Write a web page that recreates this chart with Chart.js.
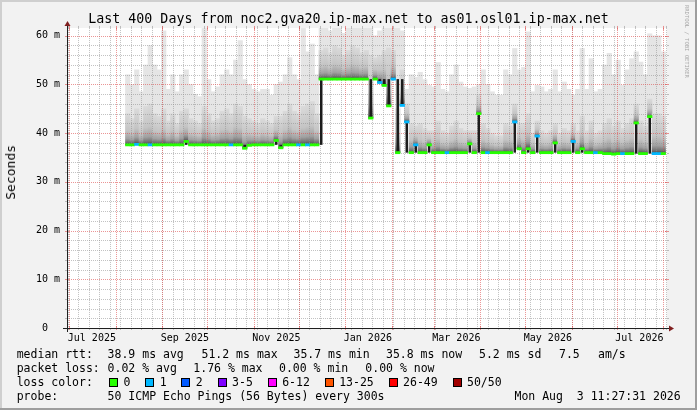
<!DOCTYPE html>
<html>
<head>
<meta charset="utf-8">
<title>Last 400 Days from noc2.gva20.ip-max.net to as01.osl01.ip-max.net</title>
<script src="https://cdn.jsdelivr.net/npm/chart.js@4.4.0/dist/chart.umd.min.js"></script>
<style>
    body { margin: 0; background: #f2f2f2; }
    #wrap { position: relative; width: 697px; height: 410px; overflow: hidden; }
    #graph { position: absolute; left: 0; top: 0; }
    .txt { position: absolute; font-family: 'DejaVu Sans Mono', monospace; color: #000; white-space: pre; }
    .leg { font-size: 11.5px; line-height: 14px; height: 14px; }
    .lossItems { display: flex; align-items: center; }
    .lossItem { display: flex; align-items: center; margin-right: 14.8px; }
    .box { display: inline-block; width: 7px; height: 7px; border: 1px solid #000; margin-right: 5.5px; }
    #ylabel { left: 3px; top: 145px; font-size: 13px; writing-mode: vertical-rl; transform: rotate(180deg); line-height: 15px; }
    #watermark { left: 684px; top: 5px; font-size: 5.5px; line-height: 6px; color: #a8a8a8; writing-mode: vertical-rl; }
</style>
</head>
<body>
<div id="wrap">
    <canvas id="graph" width="697" height="410"></canvas>
    <div class="txt" id="ylabel">Seconds</div>
    <div class="txt" id="watermark">RRDTOOL / TOBI OETIKER</div>
</div>
<script>
// Time axis: days since the start of the 400 day window
const periodEnd = Date.UTC(2026, 7, 3, 11, 27, 31);
const periodDays = 400;
const periodStart = periodEnd - periodDays * 86400000;
const dayOf = s => (Date.parse(s + 'T00:00:00Z') - periodStart) / 86400000;

const xTickDates = ['2025-07-01', '2025-09-01', '2025-11-01', '2026-01-01', '2026-03-01', '2026-05-01', '2026-07-01'];
const xTickLabels = ['Jul 2025', 'Sep 2025', 'Nov 2025', 'Jan 2026', 'Mar 2026', 'May 2026', 'Jul 2026'];
const yTickValues = [0, 10, 20, 30, 40, 50, 60];
const yTickLabels = ['0  ', '10 m', '20 m', '30 m', '40 m', '50 m', '60 m'];
const yMax = 61.6;

// every value covers 3 days, the first one starts 39 days into the window
const firstBinDay = 39;
const binDays = 3;

// median rtt (ms)
const median = [
    37.6, 37.6, 37.7, 37.6, 37.6, 37.6, 37.6, 37.6, 37.6, 37.6,
    37.6, 37.6, 37.6, 38.3, 37.6, 37.6, 37.6, 37.6, 37.6, 37.6,
    37.6, 37.6, 37.6, 37.6, 37.6, 37.6, 36.9, 37.5, 37.6, 37.6,
    37.6, 37.6, 37.6, 38.5, 37.0, 37.6, 37.6, 37.6, 37.6, 37.6,
    37.6, 37.6, 37.6, 51.1, 51.1, 51.1, 51.1, 51.1, 51.1, 51.1,
    51.1, 51.1, 51.1, 51.1, 43.1, 51.1, 50.4, 49.8, 45.6, 51.1,
    36.0, 45.7, 42.3, 36.0, 37.6, 36.0, 36.0, 37.6, 36.0, 36.0,
    36.0, 36.0, 36.0, 36.0, 36.0, 36.0, 37.8, 36.0, 44.0, 36.0,
    36.0, 36.0, 36.0, 36.0, 36.0, 36.0, 42.3, 36.8, 36.0, 36.8,
    36.0, 39.4, 36.0, 36.0, 36.0, 38.0, 36.0, 36.0, 36.0, 38.3,
    36.0, 36.8, 36.0, 36.0, 36.0, 36.0, 35.8, 35.8, 35.7, 35.8,
    35.8, 35.8, 35.8, 42.1, 35.8, 35.8, 43.4, 35.8, 35.8, 35.8
];

// highest ping of each bin (light smoke)
const smokeTop = [
    52, 50, 53, 48.5, 54, 58, 54, 53, 61, 49,
    52, 48.5, 52, 53, 50, 48, 47.5, 61.5, 51, 48.5,
    49.5, 52, 53, 52, 55, 59, 51, 50, 49, 48.5,
    49, 49, 47.8, 50, 50.5, 52, 55.5, 52, 51, 61.5,
    56.7, 58.3, 52, 62, 62, 61, 62, 62, 60.5, 62,
    62, 62, 61.5, 62, 62, 60, 61, 62, 62, 62,
    62, 61, 49, 52, 51.5, 52.5, 51, 49.8, 49.5, 54.5,
    49, 48.5, 52, 54, 50.5, 49.5, 49.2, 49.5, 50, 53,
    50, 48.5, 47.8, 47.8, 53, 52, 57.4, 53, 53.5, 60.8,
    48.5, 49.8, 49.5, 48.5, 49, 53, 48.5, 50.5, 49, 47.8,
    49, 57.4, 49, 55.3, 48.5, 49, 54, 56.4, 52, 55,
    49.8, 53, 55.3, 56.7, 54.6, 52, 60.4, 60, 60, 56.7
];

// upper end of the dense (dark) part of the smoke
const smokeMid = [
    44, 43, 45, 42.5, 45.5, 46, 44, 43.5, 45, 42.5,
    44, 42, 44.5, 45, 43, 42.5, 42, 45.5, 44, 42.5,
    43, 44.5, 45, 44, 46, 45.5, 43.5, 43, 42.5, 42,
    43, 42.5, 42, 43.5, 43.5, 44.5, 46, 44.5, 44, 45.5,
    46, 46.5, 44, 57, 57.5, 56.5, 58, 57.5, 56, 57,
    58, 57.5, 56.5, 57, 56, 55.5, 56, 57, 57.5, 57,
    45, 53, 46, 42, 41.5, 42, 41, 40.5, 40.5, 42.5,
    40.5, 40, 41.5, 42.5, 41, 40.5, 40.5, 40.5, 48, 42,
    41, 40, 39.5, 39.5, 42, 41.5, 46, 42, 42, 44,
    40, 42.5, 40.5, 40, 40.5, 42, 40, 41, 40.5, 42,
    40.5, 43.5, 40.5, 42.5, 40, 40.5, 42, 43, 41.5, 42.5,
    41, 42, 43, 46, 42.5, 41.5, 47, 44, 44, 43.5
];

// far end of the black core where pings jump between levels
const smokeCore = [
    null, null, null, null, null, null, null, null, null, null,
    null, null, null, 37.6, null, null, null, null, null, null,
    null, null, null, null, null, null, 37.6, null, null, null,
    null, null, null, 37.6, 37.6, null, null, null, null, null,
    null, null, null, 37.6, null, null, null, null, null, null,
    null, null, null, null, 51.1, null, 51.1, 51.1, 51.1, null,
    51.1, 51.1, 36.0, null, 36.0, null, null, 36.0, null, null,
    null, null, null, null, null, null, 36.0, null, 36.0, null,
    null, null, null, null, null, null, 36.0, null, null, 36.0,
    null, 36.0, null, null, null, 36.0, null, null, null, 36.0,
    null, 36.0, null, null, null, null, null, null, null, null,
    null, null, null, 35.8, null, null, 35.8, null, null, null
];

// loss class of each bin (index into lossColors)
const loss = [
    0, 0, 1, 0, 0, 1, 0, 0, 0, 0,
    0, 0, 0, 0, 0, 0, 0, 0, 0, 0,
    0, 0, 0, 1, 0, 0, 0, 0, 0, 0,
    0, 0, 0, 0, 0, 0, 0, 0, 1, 0,
    1, 0, 0, 0, 0, 0, 0, 0, 0, 0,
    0, 0, 0, 0, 0, 0, 1, 0, 0, 1,
    0, 1, 1, 0, 1, 0, 0, 0, 0, 0,
    0, 1, 0, 0, 0, 0, 0, 0, 0, 0,
    1, 0, 0, 0, 0, 0, 1, 0, 0, 0,
    0, 1, 0, 0, 0, 0, 0, 0, 0, 1,
    0, 0, 0, 0, 1, 0, 0, 0, 0, 0,
    1, 0, 0, 0, 0, 0, 0, 1, 1, 0
];

const lossLabels = ['0', '1', '2', '3-5', '6-12', '13-25', '26-49', '50/50'];
const lossColors = ['#26ff00', '#00b8ff', '#0059ff', '#7e00ff', '#ff00ff', '#ff5500', '#ff0000', '#a10000'];

// legend rows under the graph: [left px, text] for each item
const legendTop = 347;
const legendRows = [
    [[16.7, 'median rtt:'], [107.6, '38.9 ms avg'], [201.5, '51.2 ms max'], [293.5, '35.7 ms min'],
     [386, '35.8 ms now'], [479, '5.2 ms sd'], [559, '7.5'], [598, 'am/s']],
    [[16.7, 'packet loss:'], [107.6, '0.02 % avg'], [193.3, '1.76 % max'], [279, '0.00 % min'], [365.3, '0.00 % now']],
    [[16.7, 'loss color:']],
    [[16.7, 'probe:'], [107.6, '50 ICMP Echo Pings (56 Bytes) every 300s'], [514.5, 'Mon Aug  3 11:27:31 2026']]
];

// rrdtool default colours
const GRID = 'rgba(143, 143, 143, 0.55)';
const MGRID = 'rgba(222, 79, 79, 0.6)';
const AXIS = '#1f1f1f';
const ARROW = '#801f1f';

// Legend text
const wrap = document.getElementById('wrap');
legendRows.forEach((row, r) => {
    row.forEach(([left, text]) => {
        const el = document.createElement('div');
        el.className = 'txt leg';
        el.style.left = left + 'px';
        el.style.top = (legendTop + r * 14) + 'px';
        el.textContent = text;
        wrap.appendChild(el);
    });
});
const lossBox = document.createElement('div');
lossBox.className = 'txt leg lossItems';
lossBox.style.left = '108.9px';
lossBox.style.top = (legendTop + 2 * 14) + 'px';
lossLabels.forEach((label, i) => {
    const item = document.createElement('span');
    item.className = 'lossItem';
    item.innerHTML = `<span class="box" style="background:${lossColors[i]}"></span>${label}`;
    lossBox.appendChild(item);
});
wrap.appendChild(lossBox);

const binX = median.map((_, i) => firstBinDay + binDays * (i + 0.5));

const monthStarts = [];
for (let m = 6; m <= 19; m++) {
    const d = (Date.UTC(2025, m, 1) - periodStart) / 86400000;
    if (d > 0 && d < periodDays) monthStarts.push(d);
}
const weekStarts = [];
for (let d = dayOf('2025-06-30'); d < periodDays; d += 7) {
    if (d > 0) weekStarts.push(d);
}

// Smoke gradient: dark next to the median, fading out upwards
function smokeGradient(c) {
    if (c.type !== 'data' || !c.raw || !c.raw.y) return '#c0c0c0';
    const y = c.chart.scales.y;
    if (!y) return '#c0c0c0';
    const y0 = y.getPixelForValue(c.raw.y[0]);
    const y1 = y.getPixelForValue(c.raw.y[1]);
    if (!isFinite(y0) || !isFinite(y1) || y0 === y1) return '#c0c0c0';
    const g = c.chart.ctx.createLinearGradient(0, y0, 0, y1);
    g.addColorStop(0, '#404040');
    g.addColorStop(0.07, '#6e6e6e');
    g.addColorStop(0.2, '#a0a0a0');
    g.addColorStop(0.45, '#c4c4c4');
    g.addColorStop(1, '#dadada');
    return g;
}

// Background, canvas and 3D frame
const rrdFrame = {
    id: 'rrdFrame',
    beforeDraw(chart) {
        const { ctx, width, height, chartArea: a } = chart;
        ctx.save();
        ctx.fillStyle = '#f2f2f2';
        ctx.fillRect(0, 0, width, height);
        ctx.fillStyle = '#ffffff';
        ctx.fillRect(a.left, a.top, a.right - a.left, a.bottom - a.top);
        ctx.fillStyle = '#cfcfcf';
        ctx.fillRect(0, 0, width, 2);
        ctx.fillRect(0, 0, 2, height);
        ctx.fillStyle = '#9e9e9e';
        ctx.fillRect(0, height - 2, width, 2);
        ctx.fillRect(width - 2, 0, 2, height);
        ctx.restore();
    }
};

// Dotted grid over the smoke, axes and arrows
const rrdGrid = {
    id: 'rrdGrid',
    afterDatasetDraw(chart, args) {
        if (args.index !== 2) return;
        const { ctx, chartArea: a, scales: { x, y } } = chart;
        const hline = v => {
            const py = Math.round(y.getPixelForValue(v)) + 0.5;
            ctx.beginPath(); ctx.moveTo(a.left, py); ctx.lineTo(a.right, py); ctx.stroke();
        };
        const vline = d => {
            const px = Math.round(x.getPixelForValue(d)) + 0.5;
            ctx.beginPath(); ctx.moveTo(px, a.top); ctx.lineTo(px, a.bottom); ctx.stroke();
        };
        ctx.save();
        ctx.lineWidth = 1;
        ctx.setLineDash([1, 1]);
        ctx.strokeStyle = GRID;
        for (let v = 2; v < yMax; v += 2) if (v % 10) hline(v);
        weekStarts.forEach(vline);
        ctx.strokeStyle = MGRID;
        for (let v = 10; v < yMax; v += 10) hline(v);
        monthStarts.forEach(vline);
        ctx.restore();
    },
    afterDraw(chart) {
        const { ctx, chartArea: a, scales: { x, y } } = chart;
        ctx.save();
        ctx.lineWidth = 1;
        const seg = (x0, y0, x1, y1) => { ctx.beginPath(); ctx.moveTo(x0, y0); ctx.lineTo(x1, y1); ctx.stroke(); };
        // tick marks outside the canvas area
        ctx.strokeStyle = GRID;
        for (let v = 2; v < yMax; v += 2) {
            if (v % 10 === 0) continue;
            const py = Math.round(y.getPixelForValue(v)) + 0.5;
            seg(a.left - 2, py, a.left, py);
            seg(a.right, py, a.right + 2, py);
        }
        weekStarts.forEach(d => {
            const px = Math.round(x.getPixelForValue(d)) + 0.5;
            seg(px, a.bottom, px, a.bottom + 2);
            seg(px, a.top - 2, px, a.top);
        });
        ctx.strokeStyle = MGRID;
        for (let v = 10; v < yMax; v += 10) {
            const py = Math.round(y.getPixelForValue(v)) + 0.5;
            seg(a.left - 2, py, a.left + 2, py);
            seg(a.right - 2, py, a.right + 2, py);
        }
        monthStarts.forEach(d => {
            const px = Math.round(x.getPixelForValue(d)) + 0.5;
            seg(px, a.bottom - 2, px, a.bottom + 2);
            seg(px, a.top - 2, px, a.top + 2);
        });
        // axes
        const ox = Math.round(a.left) + 0.5;
        const oy = Math.round(y.getPixelForValue(0)) + 0.5;
        ctx.strokeStyle = AXIS;
        seg(a.left - 4, oy, a.right + 4, oy);
        seg(ox, a.bottom + 4, ox, a.top - 4);
        // arrows
        ctx.fillStyle = ARROW;
        ctx.beginPath();
        ctx.moveTo(a.right + 2, oy - 3); ctx.lineTo(a.right + 2, oy + 3); ctx.lineTo(a.right + 7, oy);
        ctx.closePath(); ctx.fill();
        ctx.beginPath();
        ctx.moveTo(ox - 3, a.top - 2); ctx.lineTo(ox + 3, a.top - 2); ctx.lineTo(ox, a.top - 7);
        ctx.closePath(); ctx.fill();
        ctx.restore();
    }
};

const tickFont = { family: 'DejaVu Sans Mono', size: 10 };

new Chart(document.getElementById('graph'), {
    type: 'bar',
    data: {
        datasets: [
            {
                label: 'median rtt',
                data: median.map((v, i) => ({ x: binX[i], y: [v - 0.22, v + 0.22] })),
                backgroundColor: c => lossColors[loss[c.dataIndex]] || lossColors[0]
            },
            {
                label: 'core',
                data: smokeCore.map((v, i) => ({ x: binX[i], y: v === null ? null : [median[i], v] }))
                    .filter(p => p.y !== null),
                backgroundColor: '#1c1c1c',
                barPercentage: 0.55
            },
            {
                label: 'smoke dense',
                data: smokeMid.map((v, i) => ({ x: binX[i], y: [median[i], v] })),
                backgroundColor: smokeGradient
            },
            {
                label: 'smoke',
                data: smokeTop.map((v, i) => ({ x: binX[i], y: [median[i], v] })),
                backgroundColor: '#e5e5e5'
            }
        ]
    },
    options: {
        responsive: false,
        animation: false,
        events: [],
        datasets: {
            bar: { grouped: false, barPercentage: 1, categoryPercentage: 1, borderWidth: 0 }
        },
        plugins: {
            legend: { display: false },
            tooltip: { enabled: false },
            title: {
                display: true,
                text: 'Last 400 Days from noc2.gva20.ip-max.net to as01.osl01.ip-max.net',
                color: '#000',
                font: { family: 'DejaVu Sans Mono', size: 13.3, weight: 'normal' },
                padding: { top: 12, bottom: 0 }
            }
        },
        scales: {
            x: {
                type: 'linear',
                position: 'bottom',
                offset: false,
                min: 0,
                max: periodDays,
                afterBuildTicks: s => { s.ticks = xTickDates.map(d => ({ value: dayOf(d) })); },
                ticks: {
                    align: 'start',
                    autoSkip: false,
                    maxRotation: 0,
                    minRotation: 0,
                    padding: 4,
                    labelOffset: -1.5,
                    color: '#000',
                    font: tickFont,
                    callback: (v, i) => xTickLabels[i]
                },
                grid: { display: false, drawTicks: false, offset: false },
                border: { display: false },
                afterFit: s => { s.height = 82; s.paddingLeft = 0; s.paddingRight = 0; }
            },
            y: {
                position: 'left',
                min: 0,
                max: yMax,
                afterBuildTicks: s => { s.ticks = yTickValues.map(v => ({ value: v })); },
                ticks: {
                    padding: 7,
                    color: '#000',
                    font: tickFont,
                    callback: (v, i) => yTickLabels[i]
                },
                grid: { display: false, drawTicks: false },
                border: { display: false },
                afterFit: s => { s.width = 67; s.paddingTop = 0; s.paddingBottom = 0; }
            },
            yr: {
                position: 'right',
                min: 0,
                max: 1,
                ticks: { display: false },
                grid: { display: false, drawTicks: false },
                border: { display: false },
                afterFit: s => { s.width = 30; }
            }
        }
    },
    plugins: [rrdFrame, rrdGrid]
});
</script>
</body>
</html>
